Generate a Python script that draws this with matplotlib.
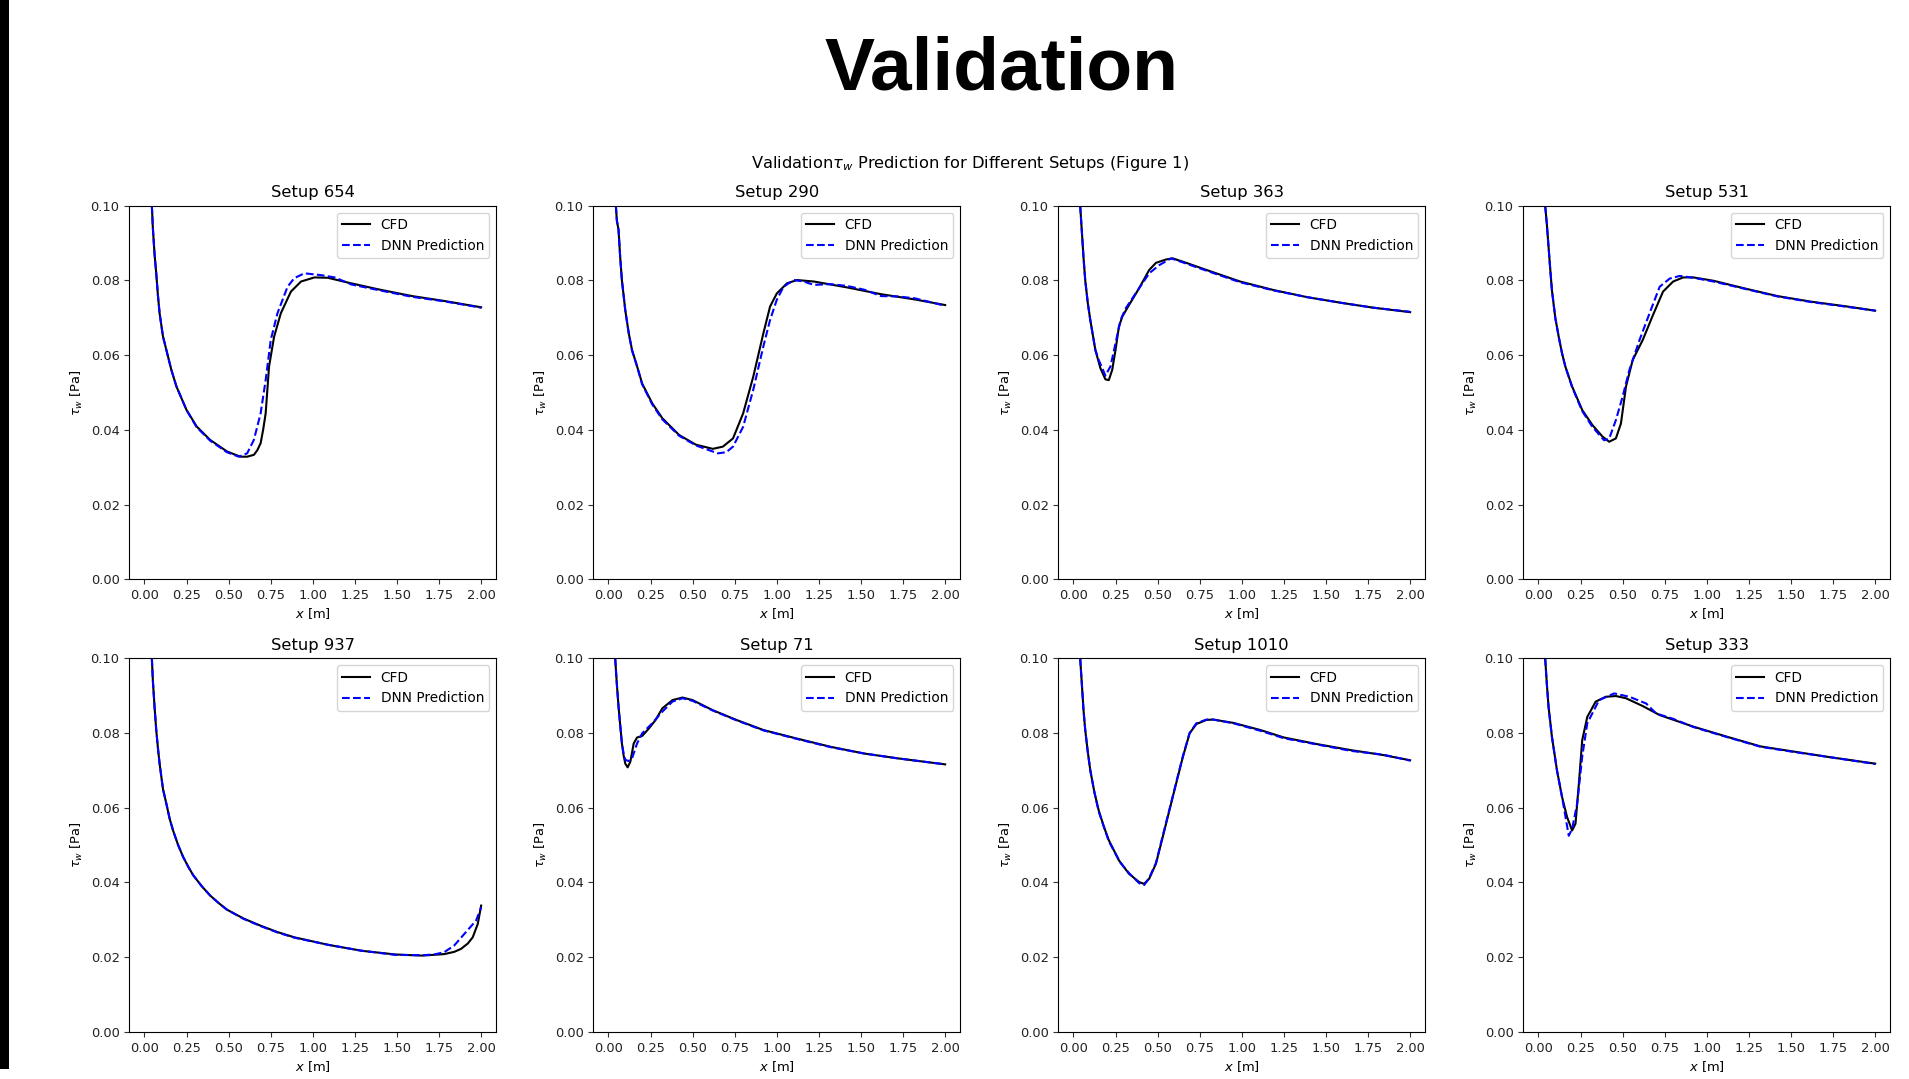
import matplotlib
matplotlib.use("Agg")
import matplotlib.pyplot as plt
from matplotlib.patches import Rectangle

setups = ["Setup 654", "Setup 290", "Setup 363", "Setup 531",
          "Setup 937", "Setup 71", "Setup 1010", "Setup 333"]

# ---- Setup 654 ----
x654_cfd = [0.044, 0.05, 0.06, 0.07, 0.08, 0.09, 0.11, 0.13, 0.16, 0.19, 0.25, 0.31, 0.39, 0.49, 0.57, 0.61, 0.65, 0.67, 0.69, 0.705, 0.72, 0.74, 0.77, 0.81, 0.87, 0.93, 1.01, 1.09, 1.21, 1.39, 1.59, 1.78, 2.00]
y654_cfd = [0.100, 0.094, 0.087, 0.0819, 0.076, 0.0712, 0.065, 0.0614, 0.056, 0.0516, 0.0453, 0.0409, 0.0373, 0.0342, 0.0328, 0.0328, 0.0333, 0.0345, 0.0364, 0.0400, 0.0444, 0.0569, 0.0649, 0.0712, 0.0770, 0.0797, 0.0808, 0.0807, 0.0794, 0.0776, 0.0758, 0.0745, 0.0728]
x654_dnn = [0.044, 0.05, 0.06, 0.07, 0.08, 0.09, 0.11, 0.13, 0.16, 0.19, 0.25, 0.31, 0.39, 0.49, 0.56, 0.61, 0.65, 0.69, 0.72, 0.75, 0.79, 0.85, 0.89, 0.95, 1.05, 1.13, 1.23, 1.39, 1.59, 1.78, 2.00]
y654_dnn = [0.100, 0.094, 0.087, 0.0819, 0.076, 0.0712, 0.065, 0.0614, 0.056, 0.0516, 0.0453, 0.0407, 0.0371, 0.0340, 0.0328, 0.0337, 0.0373, 0.0444, 0.0533, 0.0640, 0.0712, 0.0783, 0.0806, 0.0819, 0.0814, 0.0808, 0.0789, 0.0774, 0.0756, 0.0744, 0.0727]

# ---- Setup 290 ----
x290_cfd = [0.044, 0.05, 0.06, 0.07, 0.08, 0.10, 0.12, 0.14, 0.17, 0.20, 0.26, 0.32, 0.42, 0.52, 0.62, 0.68, 0.74, 0.80, 0.86, 0.92, 0.96, 1.00, 1.06, 1.12, 1.22, 1.42, 1.62, 1.82, 2.00]
y290_cfd = [0.100, 0.096, 0.0935, 0.086, 0.0800, 0.0720, 0.066, 0.0614, 0.057, 0.0524, 0.0471, 0.0431, 0.0386, 0.0360, 0.0349, 0.0355, 0.0377, 0.0444, 0.0542, 0.0658, 0.0730, 0.0765, 0.0792, 0.0801, 0.0797, 0.0781, 0.0763, 0.0749, 0.0734]
x290_dnn = [0.044, 0.05, 0.06, 0.07, 0.08, 0.10, 0.12, 0.14, 0.17, 0.20, 0.26, 0.32, 0.42, 0.52, 0.60, 0.65, 0.70, 0.74, 0.80, 0.86, 0.92, 0.96, 1.00, 1.04, 1.10, 1.16, 1.22, 1.32, 1.42, 1.52, 1.62, 1.72, 1.82, 2.00]
y290_dnn = [0.100, 0.096, 0.0935, 0.086, 0.0800, 0.0720, 0.066, 0.0612, 0.057, 0.0522, 0.0468, 0.0428, 0.0384, 0.0358, 0.0345, 0.0337, 0.0340, 0.0355, 0.0408, 0.0507, 0.0623, 0.0694, 0.0748, 0.0783, 0.0801, 0.0797, 0.0788, 0.0790, 0.0785, 0.0775, 0.0758, 0.0757, 0.0752, 0.0732]

# ---- Setup 363 ----
x363_cfd = [0.04, 0.05, 0.06, 0.07, 0.085, 0.10, 0.13, 0.16, 0.19, 0.21, 0.23, 0.25, 0.27, 0.29, 0.33, 0.39, 0.45, 0.49, 0.55, 0.59, 0.67, 0.79, 0.99, 1.19, 1.39, 1.59, 1.78, 2.00]
y363_cfd = [0.100, 0.093, 0.086, 0.0800, 0.074, 0.0694, 0.0614, 0.0565, 0.0535, 0.0533, 0.0560, 0.0614, 0.0676, 0.0703, 0.0734, 0.0779, 0.0828, 0.0847, 0.0856, 0.0859, 0.0847, 0.0828, 0.0797, 0.0774, 0.0755, 0.0740, 0.0727, 0.0715]
x363_dnn = [0.04, 0.05, 0.06, 0.07, 0.085, 0.10, 0.13, 0.15, 0.19, 0.22, 0.25, 0.28, 0.31, 0.39, 0.45, 0.51, 0.58, 0.67, 0.79, 0.99, 1.19, 1.39, 1.59, 1.78, 2.00]
y363_dnn = [0.100, 0.093, 0.086, 0.0800, 0.074, 0.0694, 0.0614, 0.0587, 0.0545, 0.0570, 0.0632, 0.0694, 0.0725, 0.0779, 0.0819, 0.0841, 0.0859, 0.0845, 0.0826, 0.0795, 0.0773, 0.0755, 0.0740, 0.0727, 0.0716]

# ---- Setup 531 ----
x531_cfd = [0.04, 0.05, 0.06, 0.07, 0.08, 0.10, 0.12, 0.14, 0.16, 0.20, 0.26, 0.32, 0.38, 0.42, 0.46, 0.49, 0.52, 0.56, 0.62, 0.68, 0.74, 0.80, 0.86, 0.92, 1.04, 1.22, 1.42, 1.62, 1.82, 2.00]
y531_cfd = [0.100, 0.095, 0.089, 0.083, 0.0774, 0.070, 0.0650, 0.0605, 0.0569, 0.0516, 0.0453, 0.0413, 0.0382, 0.0368, 0.0377, 0.0417, 0.0516, 0.0587, 0.0641, 0.0707, 0.0770, 0.0797, 0.0808, 0.0808, 0.0799, 0.0779, 0.0758, 0.0743, 0.0731, 0.0719]
x531_dnn = [0.04, 0.05, 0.06, 0.07, 0.08, 0.10, 0.12, 0.14, 0.16, 0.20, 0.26, 0.32, 0.39, 0.42, 0.46, 0.50, 0.54, 0.60, 0.66, 0.72, 0.78, 0.84, 0.92, 1.04, 1.22, 1.42, 1.62, 1.82, 2.00]
y531_dnn = [0.100, 0.095, 0.089, 0.083, 0.0774, 0.070, 0.0650, 0.0605, 0.0569, 0.0514, 0.0450, 0.0408, 0.0372, 0.0376, 0.0426, 0.0489, 0.0560, 0.0640, 0.0712, 0.0783, 0.0805, 0.0812, 0.0807, 0.0797, 0.0778, 0.0757, 0.0742, 0.0730, 0.0719]

# ---- Setup 937 ----
x937_cfd = [0.044, 0.05, 0.06, 0.07, 0.08, 0.09, 0.11, 0.13, 0.15, 0.17, 0.20, 0.23, 0.26, 0.29, 0.34, 0.39, 0.44, 0.49, 0.59, 0.69, 0.79, 0.89, 1.09, 1.29, 1.49, 1.65, 1.78, 1.84, 1.88, 1.92, 1.95, 1.98, 2.00]
y937_cfd = [0.100, 0.094, 0.087, 0.0808, 0.076, 0.0718, 0.065, 0.0611, 0.057, 0.0539, 0.050, 0.0468, 0.0442, 0.0419, 0.039, 0.0365, 0.0345, 0.0327, 0.0303, 0.0284, 0.0267, 0.0253, 0.0233, 0.0217, 0.0207, 0.0204, 0.0208, 0.0214, 0.0222, 0.0236, 0.0253, 0.0289, 0.0338]
x937_dnn = [0.044, 0.05, 0.06, 0.07, 0.08, 0.09, 0.11, 0.13, 0.15, 0.17, 0.20, 0.23, 0.26, 0.29, 0.34, 0.39, 0.44, 0.49, 0.59, 0.69, 0.79, 0.89, 1.09, 1.29, 1.49, 1.65, 1.72, 1.78, 1.84, 1.90, 1.97, 2.00]
y937_dnn = [0.100, 0.094, 0.087, 0.0808, 0.076, 0.0718, 0.065, 0.0611, 0.057, 0.0539, 0.050, 0.0468, 0.0442, 0.0419, 0.039, 0.0365, 0.0345, 0.0327, 0.0302, 0.0283, 0.0266, 0.0252, 0.0233, 0.0217, 0.0206, 0.0205, 0.0207, 0.0213, 0.0231, 0.0262, 0.0298, 0.0333]

# ---- Setup 71 ----
x71_cfd = [0.04, 0.05, 0.06, 0.07, 0.08, 0.09, 0.10, 0.114, 0.13, 0.15, 0.17, 0.20, 0.24, 0.28, 0.32, 0.38, 0.44, 0.50, 0.62, 0.76, 0.92, 1.12, 1.32, 1.52, 1.72, 2.00]
y71_cfd = [0.100, 0.093, 0.087, 0.082, 0.0772, 0.074, 0.0718, 0.0708, 0.0723, 0.0772, 0.0788, 0.0792, 0.0812, 0.0835, 0.0866, 0.0888, 0.0895, 0.0888, 0.0861, 0.0835, 0.0808, 0.0785, 0.0763, 0.0745, 0.0732, 0.0716]
x71_dnn = [0.04, 0.05, 0.06, 0.07, 0.08, 0.09, 0.10, 0.12, 0.14, 0.17, 0.20, 0.26, 0.32, 0.38, 0.44, 0.50, 0.62, 0.76, 0.92, 1.12, 1.32, 1.52, 1.72, 2.00]
y71_dnn = [0.100, 0.093, 0.087, 0.082, 0.0772, 0.0745, 0.0728, 0.0725, 0.0732, 0.0772, 0.0799, 0.0826, 0.0857, 0.0884, 0.0893, 0.0886, 0.0860, 0.0834, 0.0807, 0.0784, 0.0762, 0.0745, 0.0732, 0.0716]

# ---- Setup 1010 ----
x1010_cfd = [0.04, 0.05, 0.06, 0.07, 0.085, 0.10, 0.125, 0.15, 0.18, 0.21, 0.27, 0.33, 0.39, 0.42, 0.45, 0.49, 0.53, 0.57, 0.61, 0.65, 0.69, 0.73, 0.79, 0.83, 0.95, 1.11, 1.25, 1.45, 1.65, 1.84, 2.00]
y1010_cfd = [0.100, 0.093, 0.086, 0.0808, 0.075, 0.0700, 0.064, 0.0593, 0.055, 0.0513, 0.0459, 0.0423, 0.0401, 0.0396, 0.0410, 0.0450, 0.0521, 0.0593, 0.0665, 0.0736, 0.0799, 0.0824, 0.0835, 0.0836, 0.0827, 0.0808, 0.0788, 0.0770, 0.0754, 0.0741, 0.0727]
x1010_dnn = [0.04, 0.05, 0.06, 0.07, 0.085, 0.10, 0.125, 0.15, 0.18, 0.21, 0.28, 0.33, 0.39, 0.42, 0.45, 0.49, 0.53, 0.57, 0.61, 0.65, 0.69, 0.73, 0.79, 0.83, 0.95, 1.11, 1.25, 1.45, 1.65, 1.84, 2.00]
y1010_dnn = [0.100, 0.093, 0.086, 0.0808, 0.075, 0.0700, 0.064, 0.0590, 0.055, 0.0510, 0.0452, 0.0425, 0.0398, 0.0393, 0.0412, 0.0452, 0.0524, 0.0595, 0.0667, 0.0738, 0.0800, 0.0826, 0.0836, 0.0836, 0.0826, 0.0806, 0.0786, 0.0769, 0.0752, 0.0742, 0.0726]

# ---- Setup 333 ----
x333_cfd = [0.04, 0.05, 0.06, 0.07, 0.08, 0.095, 0.11, 0.14, 0.17, 0.20, 0.22, 0.24, 0.26, 0.29, 0.34, 0.40, 0.46, 0.52, 0.62, 0.72, 0.92, 1.12, 1.32, 1.52, 1.72, 2.00]
y333_cfd = [0.100, 0.093, 0.087, 0.083, 0.0790, 0.0745, 0.0700, 0.0629, 0.0575, 0.0539, 0.0557, 0.0664, 0.0781, 0.0843, 0.0884, 0.0897, 0.0899, 0.0893, 0.0872, 0.0848, 0.0817, 0.0790, 0.0764, 0.0750, 0.0736, 0.0718]
x333_dnn = [0.04, 0.05, 0.06, 0.07, 0.08, 0.095, 0.11, 0.14, 0.18, 0.20, 0.23, 0.26, 0.29, 0.36, 0.45, 0.54, 0.64, 0.70, 0.80, 0.92, 1.12, 1.32, 1.52, 1.72, 2.00]
y333_dnn = [0.100, 0.093, 0.087, 0.083, 0.0790, 0.0745, 0.0700, 0.0629, 0.0525, 0.0543, 0.0611, 0.0737, 0.0826, 0.0888, 0.0906, 0.0897, 0.0879, 0.0852, 0.0838, 0.0816, 0.0789, 0.0763, 0.0749, 0.0736, 0.0717]

cfd_x = [x654_cfd, x290_cfd, x363_cfd, x531_cfd, x937_cfd, x71_cfd, x1010_cfd, x333_cfd]
cfd_y = [y654_cfd, y290_cfd, y363_cfd, y531_cfd, y937_cfd, y71_cfd, y1010_cfd, y333_cfd]
dnn_x = [x654_dnn, x290_dnn, x363_dnn, x531_dnn, x937_dnn, x71_dnn, x1010_dnn, x333_dnn]
dnn_y = [y654_dnn, y290_dnn, y363_dnn, y531_dnn, y937_dnn, y71_dnn, y1010_dnn, y333_dnn]

x_ticks = [0.00, 0.25, 0.50, 0.75, 1.00, 1.25, 1.50, 1.75, 2.00]
y_ticks = [0.00, 0.02, 0.04, 0.06, 0.08, 0.10]

W, H = 1909, 1079
fig = plt.figure(figsize=(W / 100, H / 100), dpi=100)

# black slide edge
fig.patches.append(Rectangle((0, 10 / H), 9 / W, 1 - 10 / H, transform=fig.transFigure,
                             facecolor="black", edgecolor="none"))

fig.text(1001 / W, 1 - 70 / H, "Validation", ha="center", va="center",
         fontsize=54, fontweight="bold", family="Liberation Sans")
fig.text(970 / W, 1 - 163 / H,
         r"Validation$\tau_w$ Prediction for Different Setups (Figure 1)",
         ha="center", va="center", fontsize=11.7)

lefts = [129.3, 593.3, 1058.3, 1523.3]
tops = [205.7, 658.3]
aw, ah = 367.0, 373.5

for i, name in enumerate(setups):
    r, c = divmod(i, 4)
    ax = fig.add_axes([lefts[c] / W, 1 - (tops[r] + ah) / H, aw / W, ah / H])
    ax.plot(cfd_x[i], cfd_y[i], color="black", lw=1.5, label="CFD")
    ax.plot(dnn_x[i], dnn_y[i], color="blue", lw=1.5, ls="--", label="DNN Prediction")
    ax.set_xlim(-0.09, 2.09)
    ax.set_ylim(0, 0.10)
    ax.set_xticks(x_ticks)
    ax.set_xticklabels([f"{t:.2f}" for t in x_ticks])
    ax.set_yticks(y_ticks)
    ax.set_yticklabels([f"{t:.2f}" for t in y_ticks])
    ax.tick_params(labelsize=9.4, length=3.5, color="#333333", labelcolor="#222222")
    ax.set_title(name, fontsize=11.8, pad=6)
    ax.set_xlabel(r"$x$ [m]", fontsize=9.4, labelpad=3)
    ax.set_ylabel(r"$\tau_w$ [Pa]", fontsize=9.4, labelpad=4)
    ax.legend(loc="upper right", fontsize=9.8, framealpha=0.8, borderaxespad=0.5)

fig.savefig("out.png", dpi=100)
